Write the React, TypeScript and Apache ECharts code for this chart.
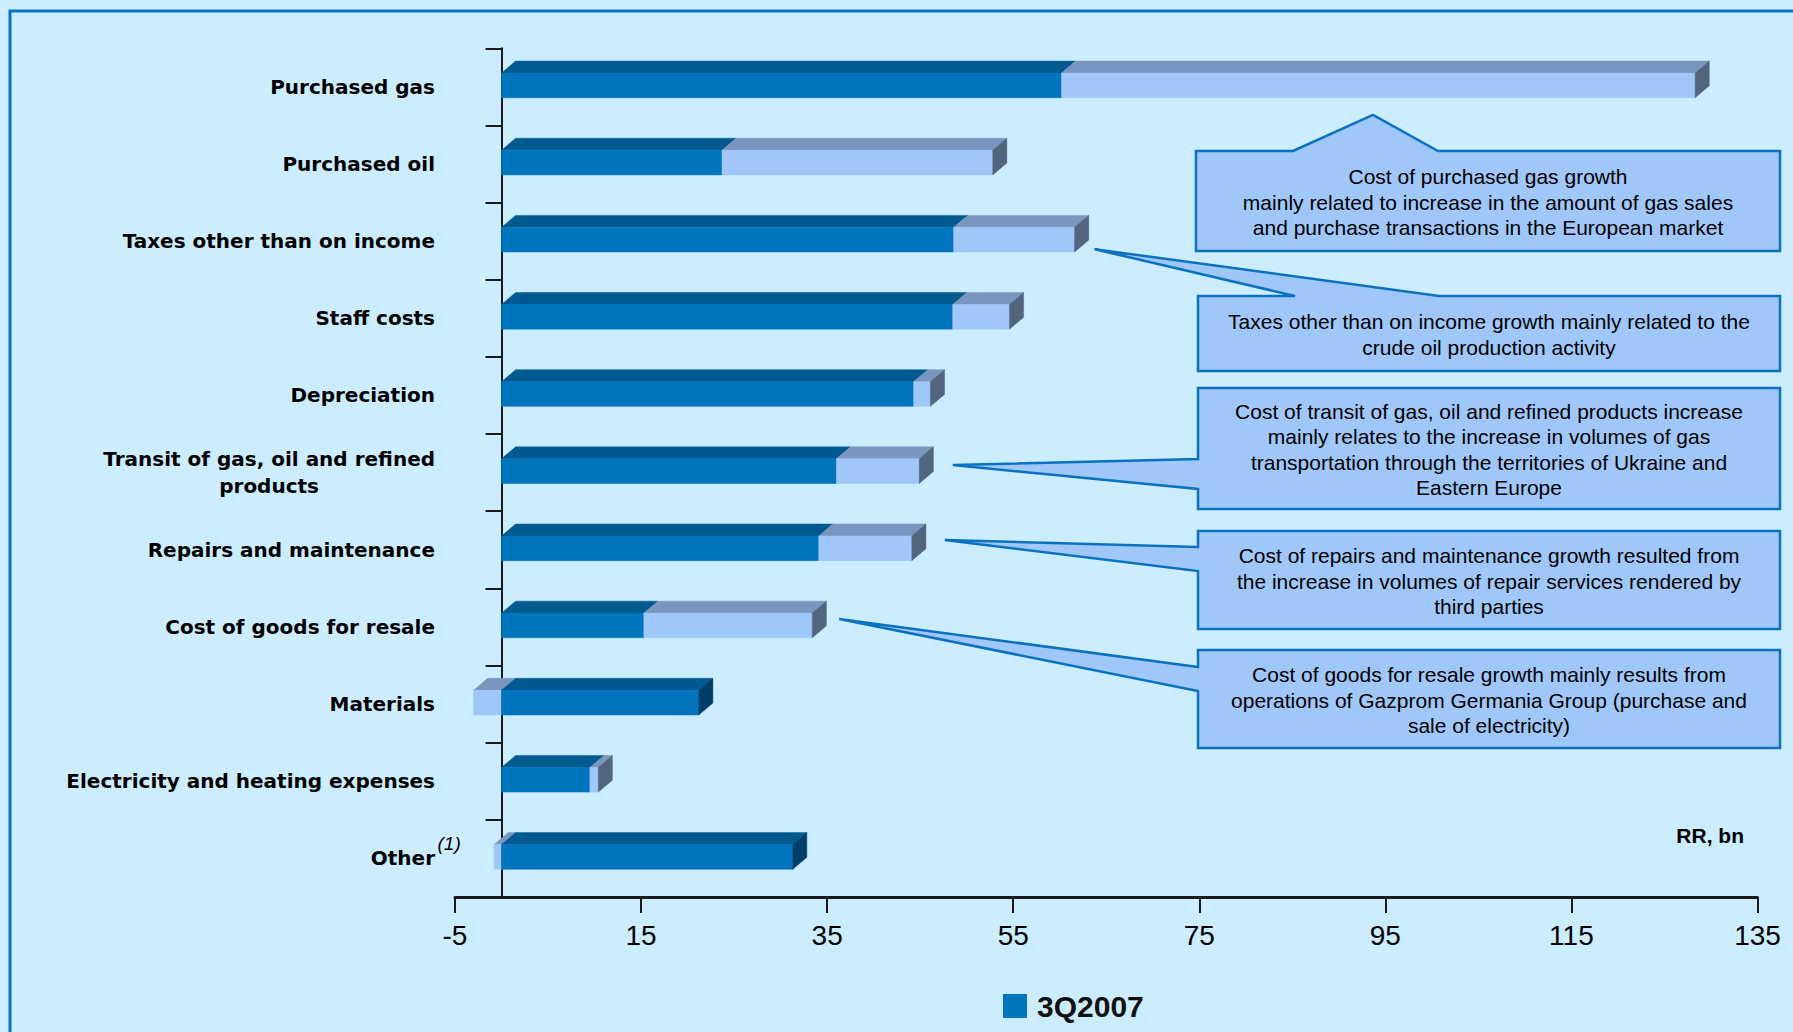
import React, { useEffect, useRef } from 'react';
import * as echarts from 'echarts';

// ---------- data ----------
const categories = [
  'Purchased gas',
  'Purchased oil',
  'Taxes other than on income',
  'Staff costs',
  'Depreciation',
  'Transit of gas, oil and refined\nproducts',
  'Repairs and maintenance',
  'Cost of goods for resale',
  'Materials',
  'Electricity and heating expenses',
  'Other',
];
// 3Q2007 value (dark part)
const q3_2007 = [60.2, 23.7, 48.6, 48.5, 44.3, 36.0, 34.1, 15.3, 21.2, 9.5, 31.3];
// change to the next period (light part; negative drawn left of zero)
const change = [68.1, 29.1, 13.0, 6.1, 1.8, 8.9, 10.0, 18.1, -3.0, 0.9, -0.8];

const xMin = -5;
const xMax = 135;
const xStep = 20;
const legendLabel = '3Q2007';
const unitLabel = 'RR, bn';
const footnoteMark = '(1)';

const calloutTexts = [
  'Cost of purchased gas growth\nmainly related to increase in the amount of gas sales\nand purchase transactions in the European market',
  'Taxes other than on income growth mainly related to the\ncrude oil production activity',
  'Cost of transit of gas, oil and refined products increase\nmainly relates to the increase in volumes of gas\ntransportation through the territories of Ukraine and\nEastern Europe',
  'Cost of repairs and maintenance growth resulted from\nthe increase in volumes of repair services rendered by\nthird parties',
  'Cost of goods for resale growth mainly results from\noperations of Gazprom Germania Group (purchase and\nsale of electricity)',
];
const calloutCategory = [0, 2, 5, 6, 7];

// ---------- styles / layout ----------
const C = {
  bg: '#CCEDFF',
  frame: '#0A72BF',
  dark: '#0074BD',
  darkTop: '#005A90',
  darkSide: '#003D68',
  light: '#9FC7FA',
  lightTop: '#7A95BE',
  lightSide: '#51657F',
  axis: '#1a1a1a',
  callFill: '#9FC7FA',
  callStroke: '#0A72BF',
};
const SANS = '"Liberation Sans", Arial, sans-serif';
const LABEL_FONT = '"DejaVu Sans", "Liberation Sans", sans-serif';

// box: [left, top, right, bottom]; pointer described per callout
const calloutLayout = [
  { box: [1196, 151, 1780, 251], kind: 'top', base: [1293, 1438], apexX: 'fixed', ax: 1373, ay: 28 },
  { box: [1198, 296, 1780, 371], kind: 'top', base: [1295, 1439], apexX: 'end', ax: 20, ay: 8 },
  { box: [1198, 388, 1780, 509], kind: 'left', base: [459, 489], apexX: 'end', ax: 33.5, ay: -7.6 },
  { box: [1198, 531, 1780, 629], kind: 'left', base: [547, 571], apexX: 'end', ax: 33, ay: -9.7 },
  { box: [1198, 650, 1780, 748], kind: 'left', base: [667, 691], apexX: 'end', ax: 27, ay: -8 },
];

const renderItem = (params: any, api: any) => {
  const cat = api.value(0);
  const base = api.value(1);
  const delta = api.value(2);
  const band = api.size([0, 1])[1];
  const h = band * 0.32;
  const depth = band * 0.155;
  const dx = depth * 1.18;
  const pZero = api.coord([0, cat]);
  const yc = pZero[1] - 1.5;
  const yt = yc - h / 2;
  const yb = yc + h / 2;
  const x0 = pZero[0];
  const xb = api.coord([base, cat])[0];
  const xd = api.coord([delta >= 0 ? base + delta : delta, cat])[0];
  const front = (a: number, b: number, color: string) => ({
    type: 'rect',
    shape: { x: Math.min(a, b), y: yt, width: Math.abs(b - a), height: h },
    style: { fill: color, stroke: color, lineWidth: 0.5 },
  });
  const top = (a: number, b: number, color: string) => ({
    type: 'polygon',
    shape: { points: [[a, yt], [b, yt], [b + dx, yt - depth], [a + dx, yt - depth]] },
    style: { fill: color, stroke: color, lineWidth: 0.5 },
  });
  const side = (x: number, color: string) => ({
    type: 'polygon',
    shape: { points: [[x, yt], [x + dx, yt - depth], [x + dx, yb - depth], [x, yb]] },
    style: { fill: color, stroke: color, lineWidth: 0.5 },
  });
  const children: any[] = [];
  if (delta >= 0) {
    children.push(
      top(x0, xb, C.darkTop),
      top(xb, xd, C.lightTop),
      front(x0, xb, C.dark),
      front(xb, xd, C.light),
      side(xd, C.lightSide)
    );
  } else {
    children.push(
      top(xd, x0, C.lightTop),
      top(x0, xb, C.darkTop),
      front(xd, x0, C.light),
      front(x0, xb, C.dark),
      side(xb, C.darkSide)
    );
  }
  return { type: 'group', children };
};

const option: any = {
  animation: false,
  backgroundColor: C.bg,
  grid: { left: 455, right: 35.5, top: 48.3, bottom: 135 },
  legend: {
    data: [legendLabel],
    left: 998,
    top: 986,
    icon: 'rect',
    itemWidth: 24,
    itemHeight: 24,
    textStyle: { fontFamily: SANS, fontWeight: 'bold', fontSize: 30, color: '#111', padding: [0, 0, 0, 5] },
  },
  xAxis: {
    type: 'value',
    min: xMin,
    max: xMax,
    interval: xStep,
    splitLine: { show: false },
    axisLine: { show: true, lineStyle: { color: C.axis, width: 3 } },
    axisTick: { show: true, length: 16, lineStyle: { color: C.axis, width: 2 } },
    axisLabel: { fontFamily: SANS, fontSize: 28, color: '#000', margin: 24 },
  },
  yAxis: {
    type: 'category',
    inverse: true,
    data: categories,
    axisLine: { show: true, onZero: true, lineStyle: { color: C.axis, width: 2 } },
    axisTick: { show: true, length: 16, interval: 0, lineStyle: { color: C.axis, width: 2 } },
    axisLabel: {
      interval: 0,
      margin: 20,
      align: 'right',
      formatter: (v: string) => v.split('\n').map((l) => `{c|${l}}`).join('\n'),
      rich: {
        c: {
          fontFamily: LABEL_FONT,
          fontWeight: 'bold',
          fontSize: 20,
          color: '#000',
          align: 'center',
          lineHeight: 27,
        },
      },
    },
  },
  series: [
    {
      type: 'custom',
      name: legendLabel,
      renderItem,
      itemStyle: { color: C.dark },
      encode: { x: [1, 2], y: 0 },
      data: categories.map((c, i) => [i, q3_2007[i], change[i]]),
      silent: true,
    },
  ],
};

function buildGraphics(chart: any) {
  const px = (v: number, c: number) => chart.convertToPixel({ gridIndex: 0 }, [v, c]);
  const els: any[] = [];
  // frame
  els.push({
    type: 'rect',
    shape: { x: 10, y: 11, width: 1820, height: 1100 },
    style: { fill: 'none', stroke: C.frame, lineWidth: 3 },
    z: 0,
  });
  calloutLayout.forEach((L, k) => {
    const cat = calloutCategory[k];
    const total = q3_2007[cat] + Math.max(change[cat], 0);
    const end = px(total, cat);
    const catY = px(0, cat)[1];
    const ax = L.apexX === 'fixed' ? L.ax : end[0] + L.ax;
    const ay = catY + L.ay;
    const [l, t, r, b] = L.box;
    let pts: number[][];
    if (L.kind === 'top') {
      pts = [[l, t], [L.base[0], t], [ax, ay], [L.base[1], t], [r, t], [r, b], [l, b]];
    } else {
      pts = [[l, t], [r, t], [r, b], [l, b], [l, L.base[1]], [ax, ay], [l, L.base[0]]];
    }
    els.push({
      type: 'polygon',
      shape: { points: pts },
      style: { fill: C.callFill, stroke: C.callStroke, lineWidth: 2.5 },
      z: 5,
    });
    els.push({
      type: 'text',
      x: (l + r) / 2,
      y: (t + b) / 2 + 1,
      style: {
        text: calloutTexts[k],
        fontFamily: SANS,
        fontSize: 21,
        fill: '#000',
        align: 'center',
        verticalAlign: 'middle',
        lineHeight: 25.5,
      },
      z: 6,
    });
  });
  // footnote mark next to "Other"
  const otherIdx = categories.length - 1;
  const axisX = px(0, otherIdx)[0];
  const otherY = px(0, otherIdx)[1];
  els.push({
    type: 'text',
    x: axisX - 64,
    y: otherY - 15,
    style: {
      text: footnoteMark,
      fontFamily: SANS,
      fontStyle: 'italic',
      fontSize: 19,
      fill: '#000',
      align: 'left',
      verticalAlign: 'middle',
    },
    z: 6,
  });
  // unit label
  els.push({
    type: 'text',
    x: 1744,
    y: 835,
    style: {
      text: unitLabel,
      fontFamily: SANS,
      fontWeight: 'bold',
      fontSize: 21,
      fill: '#000',
      align: 'right',
      verticalAlign: 'middle',
    },
    z: 6,
  });
  return els;
}

export default function App() {
  const ref = useRef<HTMLDivElement>(null);
  useEffect(() => {
    const chart = echarts.init(ref.current!, null, { renderer: 'svg' });
    chart.setOption(option);
    chart.setOption({ graphic: buildGraphics(chart) });
    return () => chart.dispose();
  }, []);
  return (
    <div
      ref={ref}
      style={{ position: 'absolute', left: 0, top: 0, width: 1793, height: 1032, background: C.bg }}
    />
  );
}
